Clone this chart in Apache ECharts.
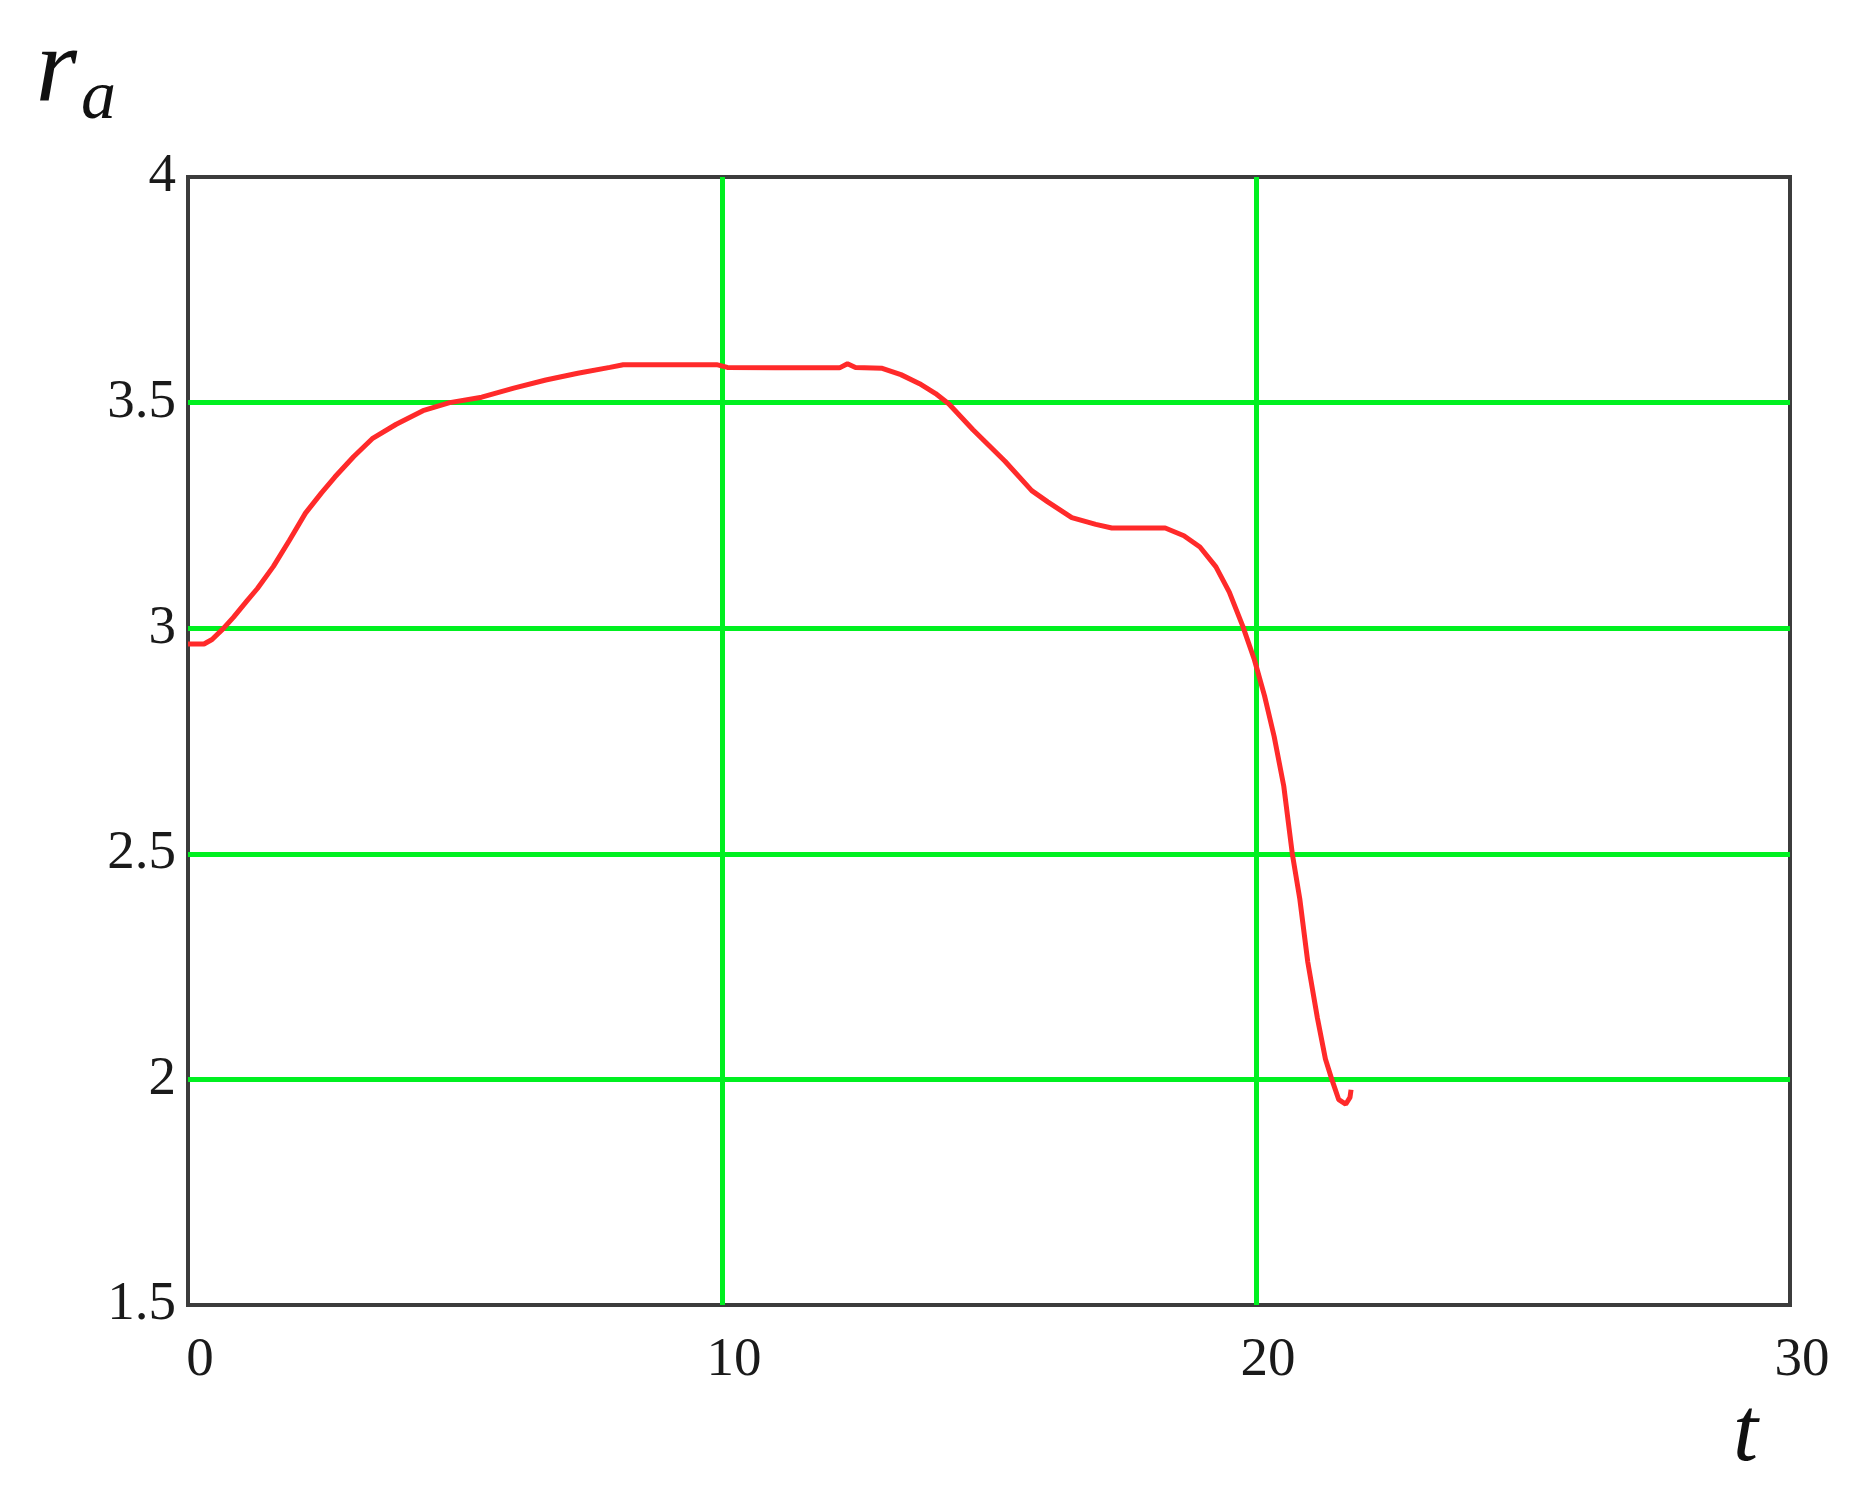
<!DOCTYPE html>
<html>
<head>
<meta charset="utf-8">
<script src="https://cdn.jsdelivr.net/npm/echarts@6/dist/echarts.min.js"></script>
<style>
html,body{margin:0;padding:0;background:#fff;}
#chart{width:1856px;height:1498px;}
</style>
</head>
<body>
<div id="chart"></div>
<script>
const tValues = [0, 0.3, 0.45, 0.65, 0.85, 1.1, 1.3, 1.6, 1.9, 2.2, 2.5, 2.75, 3.1, 3.45, 3.9, 4.4, 4.9, 5.5, 6.1, 6.7, 7.3, 7.9, 8.15, 9.0, 9.9, 10.1, 11.0, 12.2, 12.35, 12.5, 13.0, 13.35, 13.7, 14.0, 14.25, 14.7, 15.3, 15.8, 16.1, 16.55, 17.0, 17.3, 18.3, 18.65, 18.95, 19.25, 19.5, 19.75, 19.97, 20.16, 20.34, 20.52, 20.68, 20.82, 20.97, 21.15, 21.3, 21.42, 21.55, 21.68, 21.76, 21.78];
const rValues = [2.965, 2.965, 2.975, 2.998, 3.024, 3.06, 3.088, 3.137, 3.195, 3.255, 3.30, 3.335, 3.38, 3.42, 3.452, 3.482, 3.5, 3.512, 3.532, 3.55, 3.565, 3.578, 3.584, 3.584, 3.584, 3.578, 3.577, 3.577, 3.586, 3.578, 3.576, 3.562, 3.542, 3.52, 3.497, 3.44, 3.37, 3.305, 3.28, 3.245, 3.23, 3.222, 3.222, 3.205, 3.18, 3.136, 3.08, 3.005, 2.93, 2.85, 2.76, 2.65, 2.5, 2.4, 2.26, 2.136, 2.045, 2.0, 1.955, 1.945, 1.96, 1.977];
const xTicks = [0, 10, 20, 30];
const yTicks = [1.5, 2, 2.5, 3, 3.5, 4];

const chart = echarts.init(document.getElementById('chart'));
const serif = '"Liberation Serif", "DejaVu Serif", serif';
const gridGreen = '#00f020';
chart.setOption({
  animation: false,
  backgroundColor: '#ffffff',
  grid: {left: 188, right: 66, top: 177, bottom: 193, show: true, borderColor: '#3c3c3c', borderWidth: 4, backgroundColor: 'transparent'},
  xAxis: {
    type: 'value', min: xTicks[0], max: xTicks[xTicks.length - 1], interval: 10,
    name: 't', nameLocation: 'end', nameGap: 0,
    nameTextStyle: {fontFamily: serif, fontStyle: 'italic', fontSize: 90, color: '#111', align: 'right', verticalAlign: 'top', padding: [86, 32, 0, 0]},
    axisLine: {show: false}, axisTick: {show: false},
    axisLabel: {fontFamily: serif, fontSize: 55, color: '#1a1a1a', margin: 28, padding: [0, 0, 0, 24]},
    splitLine: {show: true, showMinLine: false, showMaxLine: false, lineStyle: {color: gridGreen, width: 5}}
  },
  yAxis: {
    type: 'value', min: yTicks[0], max: yTicks[yTicks.length - 1], interval: 0.5,
    name: '{r|r}{a|a}', nameLocation: 'end', nameGap: 52,
    nameTextStyle: {align: 'right', verticalAlign: 'bottom', padding: [0, 72, 0, 0],
      rich: {
        r: {fontFamily: serif, fontStyle: 'italic', fontSize: 106, color: '#111', verticalAlign: 'bottom'},
        a: {fontFamily: serif, fontStyle: 'italic', fontSize: 70, color: '#111', verticalAlign: 'bottom', padding: [0, 0, -10, 4]}
      }},
    axisLine: {show: false}, axisTick: {show: false},
    axisLabel: {fontFamily: serif, fontSize: 55, color: '#1a1a1a', margin: 12,
      formatter: v => String(v)},
    splitLine: {show: true, showMinLine: false, showMaxLine: false, lineStyle: {color: gridGreen, width: 5}}
  },
  series: [{
    type: 'line', showSymbol: false, smooth: false,
    data: tValues.map((t, i) => [t, rValues[i]]),
    lineStyle: {color: '#ff2a2a', width: 5},
    z: 3
  }]
});
</script>
</body>
</html>
